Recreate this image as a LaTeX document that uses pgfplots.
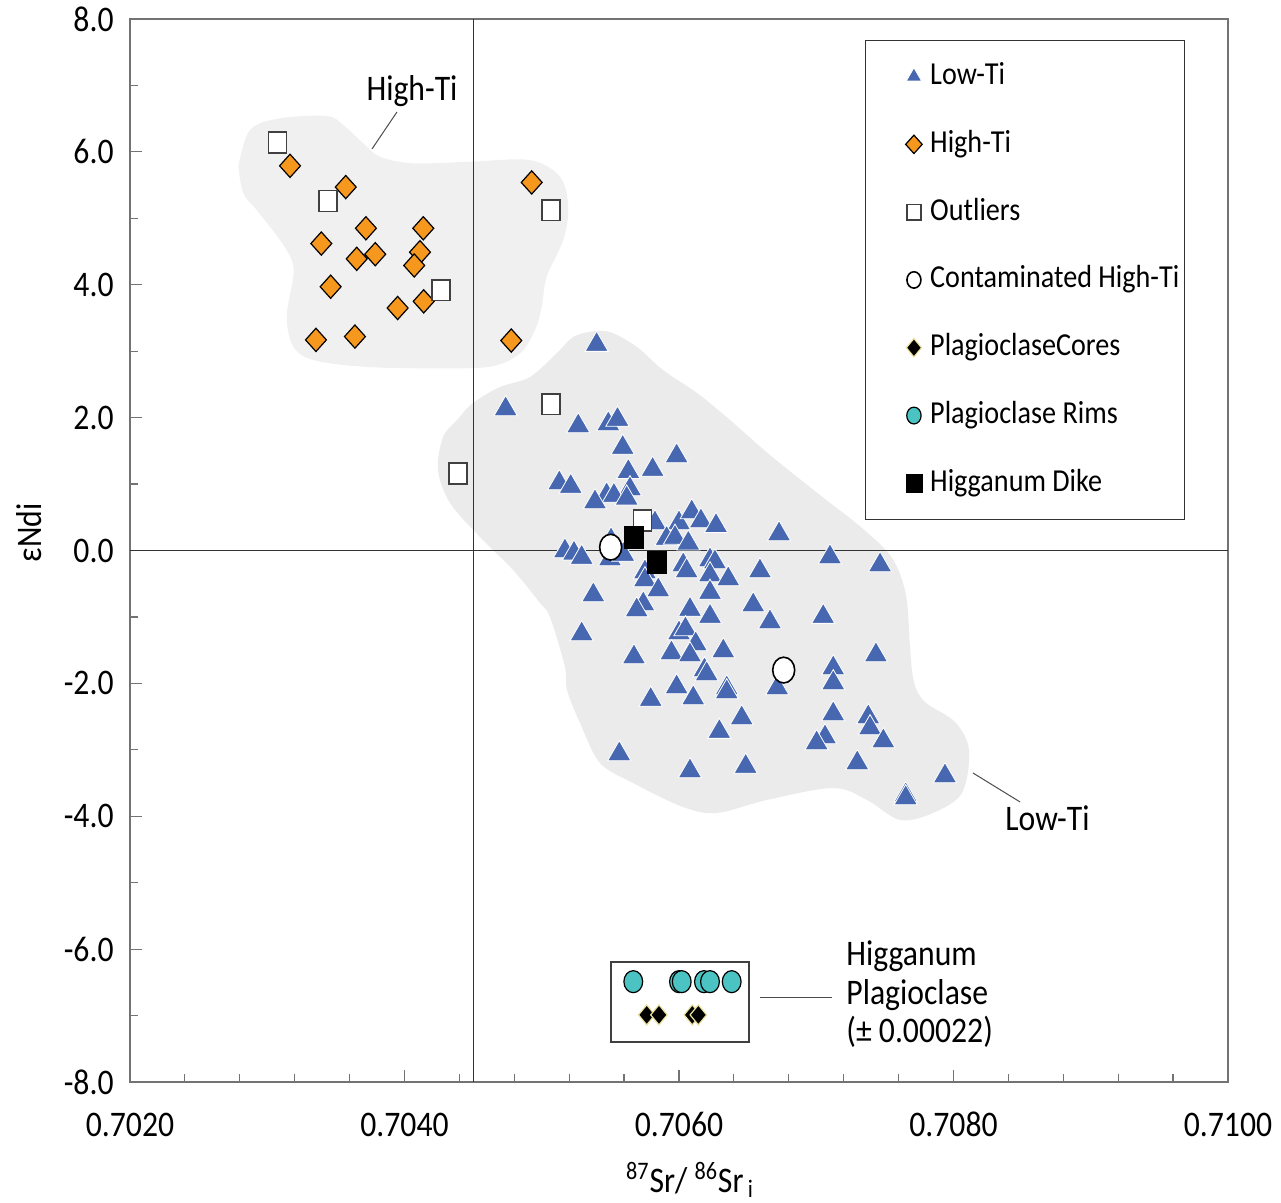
\documentclass[border=0pt]{standalone}
\usepackage{fontspec}
\setmainfont{Carlito}[FakeStretch=0.88]
\usepackage{pgfplots}
\pgfplotsset{compat=1.18}
\definecolor{lowti}{HTML}{4767B0}
\definecolor{highti}{HTML}{F7981E}
\definecolor{rim}{HTML}{4CC3C3}
\definecolor{coreedge}{HTML}{EDE3A0}
\definecolor{blobA}{HTML}{F0F0F0}
\definecolor{blobB}{HTML}{EBEBEB}
\begin{document}
\begin{tikzpicture}
\begin{axis}[
 scale only axis, width=549pt, height=531.5pt,
 xmin=0.702, xmax=0.710, ymin=-8, ymax=8,
 clip=false,
 scaled x ticks=false, scaled y ticks=false,
 axis line style={black!55, line width=0.6pt},
 tick style={black!55, line width=0.6pt},
 tick pos=left, tick align=inside,
 major tick length=6pt, minor tick length=4pt,
 xtick={0.702,0.704,0.706,0.708,0.710},
 xticklabels={0.7020,0.7040,0.7060,0.7080,0.7100},
 minor x tick num=4,
 ytick={-8,-6,-4,-2,0,2,4,6,8},
 yticklabels={-8.0,-6.0,-4.0,-2.0,0.0,2.0,4.0,6.0,8.0},
 minor y tick num=1,
 tick label style={font=\fontsize{18}{21}\selectfont, inner sep=0pt},
 xticklabel style={anchor=base, yshift=-27.5pt},
 yticklabel style={anchor=east, xshift=-8pt},
 xlabel={\textsuperscript{87}Sr/ \textsuperscript{86}Sr\textsubscript{\,i}},
 xlabel style={at={(axis description cs:0.510,-0.1040)}, anchor=base, font=\fontsize{18}{21}\selectfont, inner sep=0pt},
 ylabel={εNdi},
 ylabel style={at={(axis description cs:-0.092,0.5165)}, anchor=center, font=\fontsize{18}{21}\selectfont, inner sep=0pt},
 legend style={at={(axis description cs:0.9608,0.9803)}, anchor=north east, draw=black!80, line width=0.6pt, fill=white, inner xsep=2.5pt, inner ysep=10.5pt, row sep=18.9pt, column sep=4pt, font=\fontsize{16}{19}\selectfont, nodes={inner sep=0pt, text height=11.5pt, text depth=3.5pt}},
 legend cell align=left,
 legend image code/.code={\path (-21.5pt,0pt) (3.5pt,0pt); \draw[#1] plot coordinates {(0pt,0pt)};},
]
% bounding box matching the reference canvas
\path (axis description cs:-0.1184,-0.1138) rectangle (axis description cs:1.0483,1.0179);

% High-Ti field
\addplot[forget plot, draw=none, fill=blobA, smooth, tension=0.55] coordinates {
(0.702789,5.777) (0.702874,6.329) (0.703093,6.505) (0.703433,6.540) (0.703554,6.404)
(0.703700,6.129) (0.703822,5.927) (0.704064,5.828) (0.704477,5.852) (0.704914,5.877)
(0.705133,5.626) (0.705193,5.175) (0.705157,4.673) (0.705036,4.121) (0.705000,3.669)
(0.704951,3.319) (0.704842,2.968) (0.704623,2.766) (0.704186,2.742) (0.703700,2.766)
(0.703336,2.867) (0.703190,3.067) (0.703142,3.519) (0.703190,4.121) (0.703178,4.372)
(0.703093,4.673) (0.702923,5.125) (0.702826,5.376) (0.702789,5.777)} -- cycle;

% Low-Ti field
\addplot[forget plot, draw=none, fill=blobB, smooth, tension=0.55] coordinates {
(0.705352,3.293) (0.705497,3.289) (0.705694,3.063) (0.705883,2.717) (0.706131,2.371)
(0.706372,1.964) (0.706663,1.437) (0.707027,0.835) (0.707333,0.339) (0.707552,-0.113)
(0.707654,-0.670) (0.707683,-1.452) (0.707712,-1.979) (0.707792,-2.280) (0.708011,-2.581)
(0.708113,-3.003) (0.708062,-3.650) (0.707851,-3.951) (0.707610,-4.056) (0.707370,-3.755)
(0.707122,-3.575) (0.706641,-3.755) (0.706277,-3.951) (0.706029,-3.861) (0.705665,-3.499)
(0.705424,-3.198) (0.705279,-2.596) (0.705184,-2.100) (0.705169,-1.753) (0.705060,-1.001)
(0.704987,-0.790) (0.704791,-0.293) (0.704550,0.203) (0.704332,0.715) (0.704244,1.212)
(0.704281,1.708) (0.704383,1.964) (0.704499,2.220) (0.704696,2.461) (0.704914,2.611)
(0.705111,2.973) (0.705228,3.213) (0.705352,3.293)} -- cycle;

% reference lines
\addplot[forget plot, black!80, line width=0.5pt] coordinates {(0.7045,-8) (0.7045,8)};
\addplot[forget plot, black!80, line width=0.5pt] coordinates {(0.702,0) (0.710,0)};

% inset box
\addplot[forget plot, draw=black!75, line width=0.6pt, fill=white] coordinates {(0.705505,-6.194) (0.706510,-6.194) (0.706510,-7.398) (0.705505,-7.398)} -- cycle;

% leader lines
\draw[black!70, line width=0.5pt] (axis cs:0.703945,6.600) -- (axis cs:0.703763,6.043);
\draw[black!70, line width=0.5pt] (axis cs:0.708142,-3.349) -- (axis cs:0.708485,-3.785);
\draw[black!70, line width=0.5pt] (axis cs:0.706590,-6.735) -- (axis cs:0.707115,-6.735);

% Low-Ti
\addplot[only marks, mark=triangle*, mark size=6.7pt, mark options={fill=lowti, draw=white, line width=0.4pt}, legend image post style={mark size=4.4pt}] table {
x y
0.705400 3.098
0.704737 2.130
0.705266 1.874
0.705485 1.904
0.705552 1.972
0.705590 1.550
0.705983 1.422
0.705631 1.186
0.705808 1.219
0.705128 1.016
0.705211 0.963
0.705643 0.926
0.705473 0.835
0.705526 0.828
0.705619 0.786
0.705388 0.730
0.705825 0.414
0.706000 0.414
0.706093 0.579
0.706160 0.444
0.706270 0.373
0.705910 0.181
0.705971 0.196
0.706068 0.108
0.706729 0.248
0.705169 -0.008
0.705235 -0.042
0.705291 -0.105
0.705505 0.158
0.705497 -0.128
0.705594 -0.060
0.705752 -0.324
0.705752 -0.444
0.705849 -0.595
0.705376 -0.670
0.705740 -0.805
0.705692 -0.896
0.706031 -0.218
0.706056 -0.309
0.706226 -0.143
0.706262 -0.173
0.706226 -0.369
0.706226 -0.632
0.706359 -0.429
0.706590 -0.309
0.706080 -0.888
0.706226 -0.993
0.706541 -0.820
0.706663 -1.076
0.707051 -0.996
0.705291 -1.257
0.706000 -1.242
0.706047 -1.182
0.706122 -1.407
0.705945 -1.543
0.706080 -1.573
0.706323 -1.513
0.705672 -1.603
0.706186 -1.799
0.706202 -1.859
0.706348 -2.070
0.706348 -2.130
0.705983 -2.054
0.706104 -2.220
0.705794 -2.243
0.706716 -2.070
0.707124 -1.769
0.707124 -1.994
0.707435 -1.573
0.706457 -2.521
0.706294 -2.727
0.707124 -2.461
0.707379 -2.506
0.707392 -2.672
0.707064 -2.807
0.707003 -2.897
0.707489 -2.867
0.705565 -3.063
0.706080 -3.319
0.706486 -3.251
0.707299 -3.198
0.707938 -3.394
0.707652 -3.680
0.707652 -3.725
0.707100 -0.098
0.707465 -0.218
};
\addlegendentry{Low-Ti}

% High-Ti
\addplot[only marks, mark=diamond*, mark size=5.8pt, mark options={fill=highti, draw=black, line width=0.6pt, xscale=1.2}, legend image post style={mark size=4.6pt}] table {
x y
0.703166 5.79
0.703572 5.47
0.703719 4.85
0.704137 4.85
0.703394 4.62
0.703652 4.39
0.703787 4.46
0.704113 4.49
0.704071 4.29
0.703462 3.97
0.703950 3.65
0.704140 3.75
0.703355 3.17
0.703639 3.22
0.704927 5.54
0.704778 3.16
};
\addlegendentry{High-Ti}

% Outliers
\addplot[only marks, mark=square*, mark size=4.5pt, mark options={fill=white, draw=black!75, line width=0.8pt, yscale=1.15}, legend image post style={mark size=3.4pt}] table {
x y
0.703076 6.14
0.703443 5.26
0.704268 3.92
0.705067 5.12
0.705067 2.20
0.704390 1.16
0.705733 0.45
};
\addlegendentry{Outliers}

% Contaminated High-Ti
\addplot[only marks, mark=*, mark size=5.5pt, mark options={fill=white, draw=black, line width=0.8pt, yscale=1.17}, legend image post style={mark size=3.5pt}] table {
x y
0.705502 0.05
0.706763 -1.80
};
\addlegendentry{Contaminated High-Ti}

% Plagioclase cores
\addplot[only marks, mark=diamond*, mark size=5pt, mark options={fill=black, draw=coreedge, line width=0.6pt, xscale=1.1}, legend image post style={mark size=4.6pt}] table {
x y
0.705765 -6.99
0.705854 -6.99
0.706097 -6.99
0.706141 -6.99
};
\addlegendentry{PlagioclaseCores}

% Plagioclase rims
\addplot[only marks, mark=*, mark size=4.7pt, mark options={fill=rim, draw=black, line width=0.6pt, yscale=1.17}, legend image post style={mark size=3.6pt}] table {
x y
0.705667 -6.49
0.706000 -6.49
0.706020 -6.49
0.706182 -6.49
0.706226 -6.49
0.706384 -6.49
};
\addlegendentry{Plagioclase Rims}

% Higganum Dike
\addplot[only marks, mark=square*, mark size=4.75pt, mark options={fill=black, draw=black, line width=0.4pt, yscale=1.18}, legend image post style={mark size=4pt}] table {
x y
0.705674 0.20
0.705838 -0.18
};
\addlegendentry{Higganum Dike}

% annotations
\node[anchor=base, font=\fontsize{18}{21}\selectfont, inner sep=0pt] at (axis cs:0.704055,6.780) {High-Ti};
\node[anchor=base, font=\fontsize{18}{21}\selectfont, inner sep=0pt] at (axis cs:0.708685,-4.222) {Low-Ti};
\node[anchor=base west, font=\fontsize{18}{21}\selectfont, inner sep=0pt] at (axis cs:0.707217,-6.254) {Higganum};
\node[anchor=base west, font=\fontsize{18}{21}\selectfont, inner sep=0pt] at (axis cs:0.707217,-6.840) {Plagioclase};
\node[anchor=base west, font=\fontsize{18}{21}\selectfont, inner sep=0pt] at (axis cs:0.707217,-7.413) {(± 0.00022)};
\end{axis}
\end{tikzpicture}
\end{document}
